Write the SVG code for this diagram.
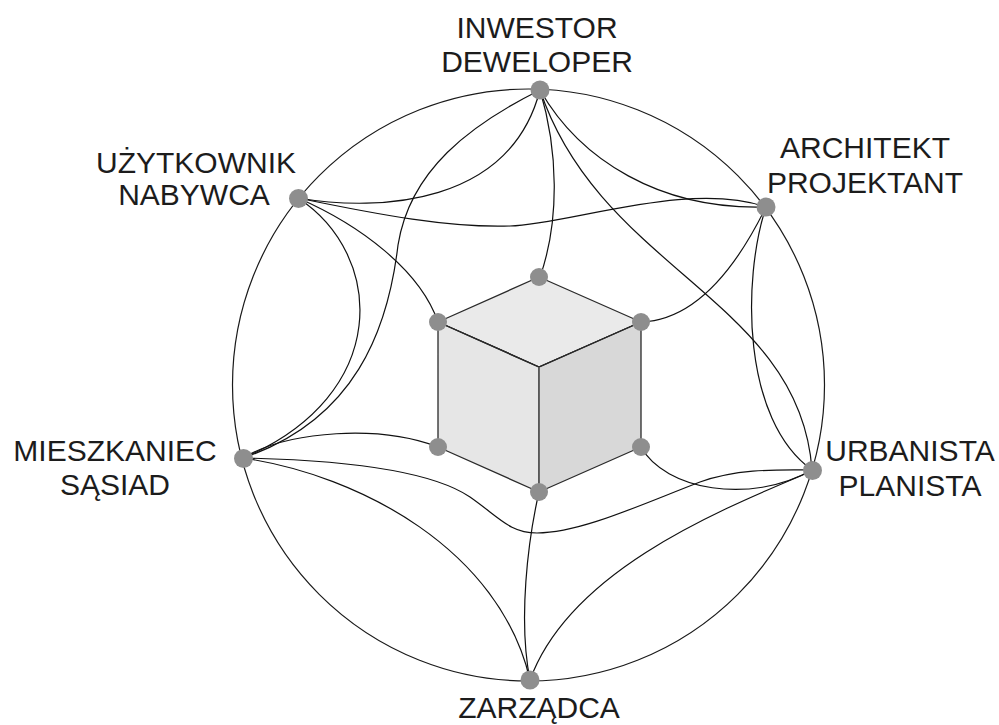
<svg xmlns="http://www.w3.org/2000/svg" width="999" height="725" viewBox="0 0 999 725">
<style>
.bg{fill:#ffffff}
.ring{fill:none;stroke:#1a1a1a;stroke-width:1.2}
.link{fill:none;stroke:#111111;stroke-width:1.2}
.face{stroke:#2a2a2a;stroke-width:1.3;stroke-linejoin:round}
.top{fill:#eaeaea}
.left{fill:#e6e6e6}
.right{fill:#d8d8d8}
.inner{fill:none;stroke:#2a2a2a;stroke-width:1.3}
.vert{fill:none;stroke:#666666;stroke-width:1.3}
.dot{fill:#8e8e8e}
.lbl{font-family:"Liberation Sans",Arial,sans-serif;font-size:30px;fill:#1c1c1c;text-anchor:middle}
</style>
<rect class="bg" x="0" y="0" width="999" height="725"/>
<g id="ring">
<circle class="ring" cx="528.5" cy="385" r="296"/>
</g>
<g id="cube">
<polygon class="face top" points="539,277 641,322 539,367 438,322"/>
<polygon class="face left" points="438,322 539,367 539,492 438,447"/>
<polygon class="face right" points="641,322 641,447 539,492 539,367"/>
<polyline class="inner" points="438,322 539,367 641,322"/>
<line class="vert" x1="539" y1="367" x2="539" y2="492"/>
</g>
<g id="connectors">
<path class="link" d="M298,198 C380,212 510,205 540,90"/>
<path class="link" d="M540,90 C470,125 410,170 398,245 C388,330 355,420 243,458"/>
<path class="link" d="M540,90 C558,150 560,220 540,277"/>
<path class="link" d="M540,90 C580,160 660,210 766,207"/>
<path class="link" d="M540,90 C600,270 800,300 812,470"/>
<path class="link" d="M298,198 C380,215 450,228 510,226 C570,224 690,180 766,207"/>
<path class="link" d="M298,198 C360,225 420,270 438,322"/>
<path class="link" d="M298,198 C385,255 392,395 243,458"/>
<path class="link" d="M766,207 C740,260 700,320 641,322"/>
<path class="link" d="M766,207 C742,280 742,420 812,470"/>
<path class="link" d="M641,447 C665,490 750,505 812,470"/>
<path class="link" d="M243,458 C340,460 430,470 470,497 C500,518 510,533 537,533 C580,533 640,505 700,482 C740,468 780,470 812,470"/>
<path class="link" d="M243,458 C290,430 380,425 438,447"/>
<path class="link" d="M243,458 C360,475 500,550 530,680"/>
<path class="link" d="M539,492 C528,540 518,620 530,680"/>
<path class="link" d="M812,471 C720,510 570,570 530,680"/>
</g>
<g id="cube-nodes">
<circle class="dot" cx="539" cy="277" r="9"/>
<circle class="dot" cx="438" cy="322" r="9"/>
<circle class="dot" cx="641" cy="322" r="9"/>
<circle class="dot" cx="438" cy="447" r="9"/>
<circle class="dot" cx="641" cy="447" r="9"/>
<circle class="dot" cx="539" cy="492" r="9"/>
</g>
<g id="node-inwestor">
<circle class="dot" cx="540" cy="90" r="9.5"/>
<text class="lbl" x="537" y="38">INWESTOR</text>
<text class="lbl" x="537" y="72">DEWELOPER</text>
</g>
<g id="node-architekt">
<circle class="dot" cx="766" cy="207" r="9.5"/>
<text class="lbl" x="865" y="158">ARCHITEKT</text>
<text class="lbl" x="865" y="193">PROJEKTANT</text>
</g>
<g id="node-urbanista">
<circle class="dot" cx="812.5" cy="470.5" r="9.5"/>
<text class="lbl" x="910" y="461">URBANISTA</text>
<text class="lbl" x="910" y="496">PLANISTA</text>
</g>
<g id="node-zarzadca">
<circle class="dot" cx="530" cy="680" r="9.5"/>
<text class="lbl" x="539" y="718">ZARZĄDCA</text>
</g>
<g id="node-mieszkaniec">
<circle class="dot" cx="243.5" cy="458.5" r="9.5"/>
<text class="lbl" x="115" y="461">MIESZKANIEC</text>
<text class="lbl" x="115" y="495">SĄSIAD</text>
</g>
<g id="node-uzytkownik">
<circle class="dot" cx="298.5" cy="198.5" r="9.5"/>
<text class="lbl" x="196" y="173">UŻYTKOWNIK</text>
<text class="lbl" x="194" y="205">NABYWCA</text>
</g>
</svg>
